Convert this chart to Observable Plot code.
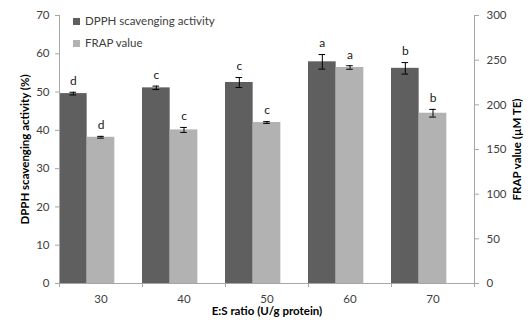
<!DOCTYPE html>
<html>
<head>
<meta charset="utf-8">
<script src="https://cdn.jsdelivr.net/npm/d3@7"></script>
<script src="https://cdn.jsdelivr.net/npm/@observablehq/plot@0.6"></script>
<style>
  html, body { margin: 0; padding: 0; background: #fff; }
  #chart { position: relative; width: 532px; height: 320px; font-family: Lato, "Liberation Sans", sans-serif; }
  #chart svg { display: block; }
  #chart g[aria-label="y-axis label"], #chart g[aria-label="x-axis label"] { font-weight: bold; fill: #000; }
  .legend { position: absolute; left: 73px; top: 10px; font-size: 11.5px; color: #404040; line-height: 22px; }
  .legend div { display: flex; align-items: center; }
  .legend span.sw { display: inline-block; width: 7px; height: 7px; margin-right: 5px; }
</style>
</head>
<body>
<div id="chart"></div>
<script>
const categories = ["30", "40", "50", "60", "70"];
const seriesNames = ["DPPH scavenging activity", "FRAP value"];
const dpph = [49.6, 51.1, 52.5, 57.9, 56.2];
const dpphErr = [0.35, 0.45, 1.3, 1.9, 1.5];
const dpphLetters = ["d", "c", "c", "a", "b"];
const frap = [163.7, 171.9, 180.2, 241.8, 190.6];
const frapErr = [1.0, 2.8, 1.0, 2.0, 4.3];
const frapLetters = ["d", "c", "c", "a", "b"];
const leftTicks = [0, 10, 20, 30, 40, 50, 60, 70];
const rightTicks = [0, 50, 100, 150, 200, 250, 300];
const colors = ["#5f5f5f", "#b2b2b2"];

const k = 70 / 300; // FRAP -> left-axis units
const slots = 3;     // two series + an empty slot per category

const rows = [];
categories.forEach((c, i) => {
  rows.push({cat: c, i, s: 0, v: dpph[i], e: dpphErr[i], letter: dpphLetters[i]});
  rows.push({cat: c, i, s: 1, v: frap[i] * k, e: frapErr[i] * k, letter: frapLetters[i]});
});
const cx = d => d.i * slots + d.s + 0.5;
const cap = 0.12;
const boundaries = d3.range(categories.length + 1).map(i => i * slots);
const centers = categories.map((c, i) => i * slots + slots / 2);

const chart = Plot.plot({
  width: 532,
  height: 320,
  marginLeft: 59,
  marginRight: 58,
  marginTop: 15,
  marginBottom: 37,
  x: {domain: [0, categories.length * slots]},
  y: {domain: [0, 70]},
  style: {fontFamily: "Lato, 'Liberation Sans', sans-serif", fontSize: "11.5px", color: "#404040", background: "#fff"},
  marks: [
    Plot.rectY(rows, {
      x1: d => d.i * slots + d.s,
      x2: d => d.i * slots + d.s + 1,
      y1: 0,
      y2: "v",
      fill: d => colors[d.s]
    }),
    Plot.ruleX(rows, {x: cx, y1: d => d.v - d.e, y2: d => d.v + d.e, stroke: "#000", strokeWidth: 1}),
    Plot.ruleY(rows, {x1: d => cx(d) - cap, x2: d => cx(d) + cap, y: d => d.v + d.e, stroke: "#000"}),
    Plot.ruleY(rows, {x1: d => cx(d) - cap, x2: d => cx(d) + cap, y: d => d.v - d.e, stroke: "#000"}),
    Plot.text(rows, {x: cx, y: d => d.v + d.e, text: "letter", dy: -11, fill: "#202020", fontSize: 12}),
    Plot.ruleX([0, categories.length * slots], {stroke: "#a6a6a6"}),
    Plot.ruleY([0], {stroke: "#a6a6a6"}),
    Plot.axisY(leftTicks, {
      anchor: "left", tickSize: 4, tickPadding: 6, stroke: "#a6a6a6",
      label: "DPPH scavenging activity (%)", labelAnchor: "center", labelArrow: "none", labelOffset: 39
    }),
    Plot.axisY(rightTicks.map(v => v * k), {
      anchor: "right", tickSize: 4, tickPadding: 8, stroke: "#a6a6a6",
      tickFormat: d => String(Math.round(d / k)),
      label: "FRAP value (µM TE)", labelAnchor: "center", labelArrow: "none", labelOffset: 46
    }),
    Plot.axisX(boundaries, {anchor: "bottom", tickSize: 4, stroke: "#a6a6a6", tickFormat: () => "", label: null}),
    Plot.axisX(centers, {
      anchor: "bottom", tickSize: 0, tickPadding: 11,
      tickFormat: d => categories[Math.floor(d / slots)],
      label: "E:S ratio (U/g protein)", labelAnchor: "center", labelArrow: "none", labelOffset: 31
    })
  ]
});

const root = document.getElementById("chart");
root.appendChild(chart);
const legend = document.createElement("div");
legend.className = "legend";
seriesNames.forEach((name, i) => {
  const row = document.createElement("div");
  const sw = document.createElement("span");
  sw.className = "sw";
  sw.style.background = colors[i];
  row.appendChild(sw);
  row.appendChild(document.createTextNode(name));
  legend.appendChild(row);
});
root.appendChild(legend);
</script>
</body>
</html>
